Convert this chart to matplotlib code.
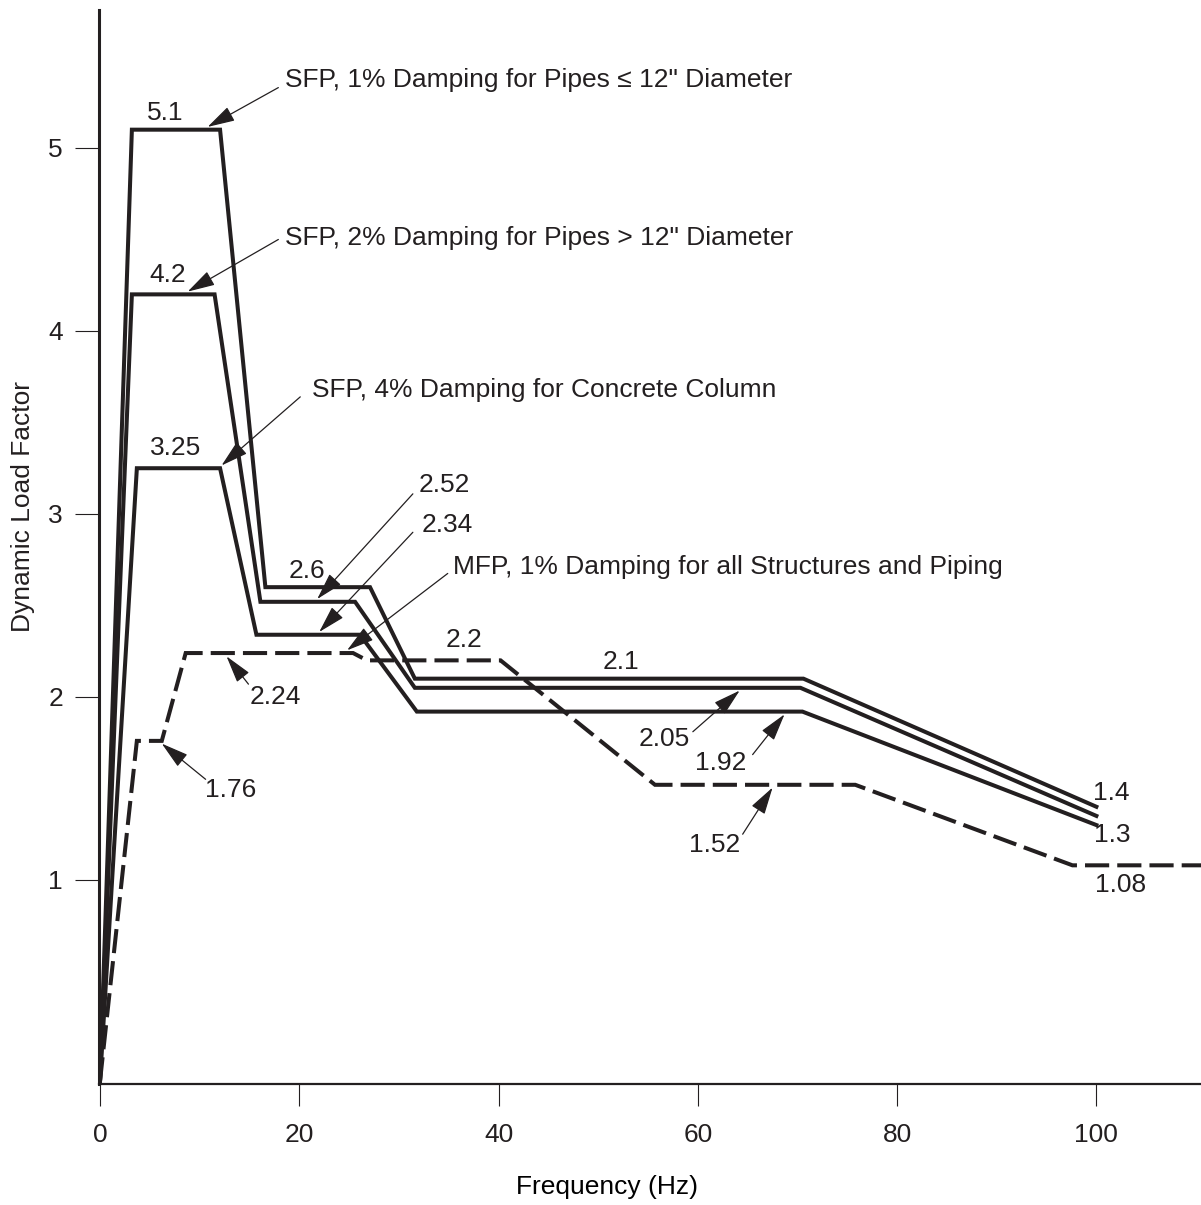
import matplotlib
matplotlib.use("Agg")
import matplotlib.pyplot as plt

INK = "#231f20"

# single frequency pulse spectra (frequency in Hz, dynamic load factor)
freq_sfp1 = [0, 3.2, 12.05, 16.6, 27.1, 31.6, 70.6, 100]
dlf_sfp1 = [-0.1, 5.1, 5.1, 2.6, 2.6, 2.1, 2.1, 1.4]

freq_sfp2 = [0, 3.2, 11.5, 16.1, 25.6, 31.6, 70.3, 100]
dlf_sfp2 = [-0.1, 4.2, 4.2, 2.52, 2.52, 2.05, 2.05, 1.35]

freq_sfp4 = [0, 3.7, 12.05, 15.7, 26.1, 31.8, 70.5, 100]
dlf_sfp4 = [-0.1, 3.25, 3.25, 2.34, 2.34, 1.92, 1.92, 1.3]

# multiple frequency pulse envelope
freq_mfp = [0, 3.7, 6.2, 8.6, 25.4, 26.8, 40.2, 55.7, 75.8, 97.6, 112]
dlf_mfp = [-0.1, 1.76, 1.76, 2.24, 2.24, 2.2, 2.2, 1.52, 1.52, 1.08, 1.08]

x_ticks = [0, 20, 40, 60, 80, 100]
y_ticks = [1, 2, 3, 4, 5]

FS = 19

plt.rcParams['font.family'] = ['Liberation Sans', 'DejaVu Sans']
plt.rcParams['font.size'] = FS
plt.rcParams['text.color'] = INK

fig = plt.figure(figsize=(12.01, 12.05), dpi=100)
ax = fig.add_axes([99 / 1201, 121 / 1205, 1 - 99 / 1201, 1074 / 1205])

line_kw = dict(color=INK, lw=2.9, solid_joinstyle='miter', dash_joinstyle='miter')
ax.plot(freq_sfp1, dlf_sfp1, **line_kw)
ax.plot(freq_sfp2, dlf_sfp2, **line_kw)
ax.plot(freq_sfp4, dlf_sfp4, **line_kw)
ax.plot(freq_mfp, dlf_mfp, linestyle=(0, (6, 2)), dash_capstyle='butt', **line_kw)

ax.set_xlim(-0.1, 110.5)
ax.set_ylim(-0.115, 5.754)
ax.set_xticks(x_ticks)
ax.set_yticks(y_ticks)

for side in ('top', 'right'):
    ax.spines[side].set_visible(False)
ax.spines['left'].set_linewidth(2.2)
ax.spines['bottom'].set_linewidth(1.6)
for side in ('left', 'bottom'):
    ax.spines[side].set_color(INK)
ax.tick_params(axis='x', direction='out', length=16, width=0.8, pad=12, colors=INK, labelsize=FS)
ax.tick_params(axis='y', direction='out', length=17, width=0.8, pad=9, colors=INK, labelsize=FS)

ax.set_xlabel("Frequency (Hz)", fontsize=FS)
ax.xaxis.set_label_coords((607 - 99) / 1102, -0.085)
fig.text(23 / 1201, 1 - 506 / 1205, "Dynamic Load Factor", rotation=90,
         ha='center', va='center', fontsize=FS)


def arrow(tail, tip):
    ax.annotate("", xy=tip, xytext=tail,
                arrowprops=dict(arrowstyle='-|>,head_length=0.85,head_width=0.24',
                                mutation_scale=20, lw=0.9, color=INK,
                                shrinkA=0, shrinkB=0))


def value(v):
    return f"{v:g}"


# curve descriptions
ax.text(18.6, dlf_sfp1[1] + 0.27, "SFP, 1% Damping for Pipes \u2264 12\" Diameter", va='center')
arrow((17.9, dlf_sfp1[1] + 0.23), (10.8, dlf_sfp1[1] + 0.015))
ax.text(18.6, dlf_sfp2[1] + 0.31, "SFP, 2% Damping for Pipes > 12\" Diameter", va='center')
arrow((17.9, dlf_sfp2[1] + 0.30), (8.8, dlf_sfp2[1] + 0.015))
ax.text(21.3, dlf_sfp4[1] + 0.43, "SFP, 4% Damping for Concrete Column", va='center')
arrow((20.1, dlf_sfp4[1] + 0.39), (12.2, dlf_sfp4[1] + 0.015))
ax.text(35.4, dlf_mfp[3] + 0.47, "MFP, 1% Damping for all Structures and Piping", va='center')
arrow((34.9, dlf_mfp[3] + 0.435), (24.8, dlf_mfp[3] + 0.015))

# plateau values
ax.text(6.5, dlf_sfp1[1] + 0.09, value(dlf_sfp1[1]), ha='center', va='center')
ax.text(6.8, dlf_sfp2[1] + 0.105, value(dlf_sfp2[1]), ha='center', va='center')
ax.text(7.6, dlf_sfp4[1] + 0.11, value(dlf_sfp4[1]), ha='center', va='center')
ax.text(20.8, dlf_sfp1[3] + 0.09, value(dlf_sfp1[3]), ha='center', va='center')

ax.text(34.6, dlf_sfp2[3] + 0.64, value(dlf_sfp2[3]), ha='center', va='center')
arrow((31.4, dlf_sfp2[3] + 0.59), (21.8, dlf_sfp2[3] + 0.015))
ax.text(34.9, dlf_sfp4[3] + 0.60, value(dlf_sfp4[3]), ha='center', va='center')
arrow((31.4, dlf_sfp4[3] + 0.56), (22.0, dlf_sfp4[3] + 0.015))

ax.text(17.6, dlf_mfp[3] - 0.24, value(dlf_mfp[3]), ha='center', va='center')
arrow((14.9, dlf_mfp[3] - 0.17), (12.7, dlf_mfp[3] - 0.018))
ax.text(36.5, dlf_mfp[5] + 0.11, value(dlf_mfp[5]), ha='center', va='center')
ax.text(13.1, dlf_mfp[1] - 0.27, value(dlf_mfp[1]), ha='center', va='center')
arrow((10.6, dlf_mfp[1] - 0.21), (6.2, dlf_mfp[1] - 0.015))

ax.text(52.3, dlf_sfp1[5] + 0.09, value(dlf_sfp1[5]), ha='center', va='center')
ax.text(56.6, dlf_sfp2[5] - 0.28, value(dlf_sfp2[5]), ha='center', va='center')
arrow((59.5, dlf_sfp2[5] - 0.24), (64.2, dlf_sfp2[5] - 0.015))
ax.text(62.3, dlf_sfp4[5] - 0.28, value(dlf_sfp4[5]), ha='center', va='center')
arrow((65.5, dlf_sfp4[5] - 0.235), (68.7, dlf_sfp4[5] - 0.015))
ax.text(61.7, dlf_mfp[7] - 0.33, value(dlf_mfp[7]), ha='center', va='center')
arrow((64.5, dlf_mfp[7] - 0.27), (67.5, dlf_mfp[7] - 0.015))

# end values at 100 Hz
ax.text(101.5, dlf_sfp1[-1] + 0.075, value(dlf_sfp1[-1]), ha='center', va='center')
ax.text(101.6, dlf_sfp4[-1] - 0.055, value(dlf_sfp4[-1]), ha='center', va='center')
ax.text(102.4, dlf_mfp[-1] - 0.11, value(dlf_mfp[-1]), ha='center', va='center')

fig.savefig("out.png", dpi=100)
